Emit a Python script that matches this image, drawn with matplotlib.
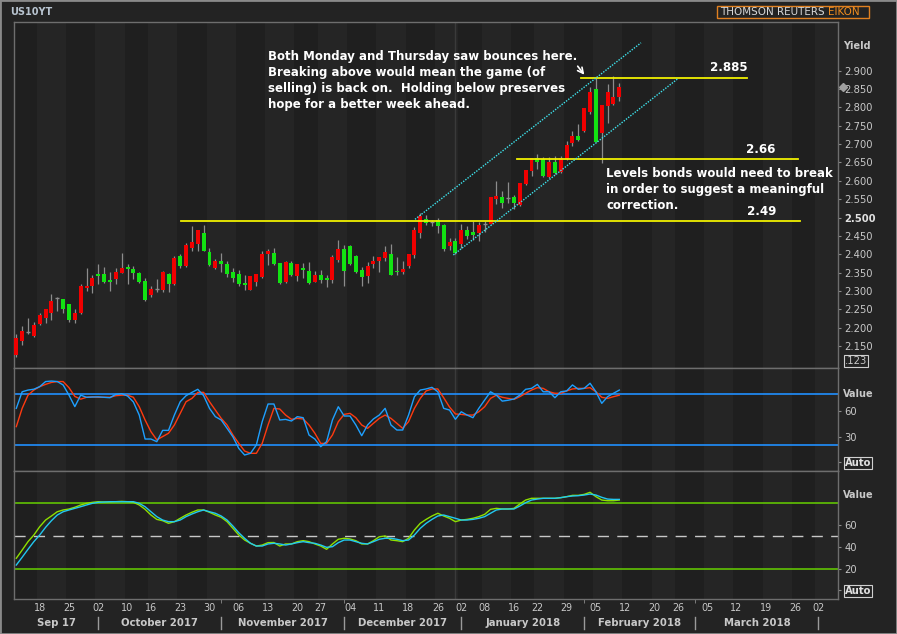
import numpy as np
import pandas as pd
import matplotlib
matplotlib.use("Agg")
import matplotlib.pyplot as plt
from matplotlib.transforms import blended_transform_factory
from matplotlib.patches import Rectangle
from matplotlib.lines import Line2D

W, H = 897, 634

# trading calendar (US bond market days)
holidays = ["2017-10-09", "2017-11-23", "2017-12-25", "2018-01-01",
            "2018-01-15", "2018-02-19", "2018-03-30"]
days = pd.bdate_range("2017-09-12", "2018-04-06", freq="C", holidays=holidays)
idx_of = {d.strftime("%Y-%m-%d"): i for i, d in enumerate(days)}

# daily candles US10YT, 12 Sep 2017 - 9 Feb 2018
opens = [2.125, 2.164, 2.188, 2.177, 2.209, 2.226, 2.241, 2.281, 2.278, 2.264,
         2.221, 2.239, 2.308, 2.313, 2.346, 2.346, 2.330, 2.333, 2.350, 2.365,
         2.359, 2.349, 2.327, 2.289, 2.305, 2.303, 2.345, 2.319, 2.395, 2.368,
         2.416, 2.428, 2.458, 2.406, 2.362, 2.382, 2.373, 2.352, 2.346, 2.322,
         2.303, 2.324, 2.337, 2.401, 2.403, 2.376, 2.324, 2.376, 2.341, 2.362,
         2.354, 2.324, 2.343, 2.333, 2.330, 2.384, 2.414, 2.422, 2.395, 2.357,
         2.341, 2.373, 2.382, 2.390, 2.401, 2.354, 2.352, 2.368, 2.398, 2.458,
         2.496, 2.488, 2.493, 2.480, 2.422, 2.436, 2.428, 2.466, 2.461, 2.458,
         2.482, 2.482, 2.550, 2.556, 2.553, 2.556, 2.534, 2.591, 2.627, 2.662,
         2.659, 2.610, 2.652, 2.625, 2.659, 2.704, 2.722, 2.737, 2.787, 2.850,
         2.731, 2.804, 2.809, 2.829]
highs = [2.183, 2.204, 2.226, 2.214, 2.240, 2.251, 2.292, 2.284, 2.278, 2.264,
         2.251, 2.318, 2.363, 2.343, 2.373, 2.365, 2.352, 2.362, 2.403, 2.373,
         2.368, 2.352, 2.335, 2.313, 2.333, 2.354, 2.348, 2.395, 2.400, 2.431,
         2.477, 2.466, 2.480, 2.417, 2.387, 2.403, 2.382, 2.362, 2.357, 2.343,
         2.341, 2.346, 2.409, 2.414, 2.417, 2.376, 2.382, 2.382, 2.373, 2.376,
         2.379, 2.354, 2.357, 2.343, 2.398, 2.439, 2.425, 2.425, 2.398, 2.365,
         2.379, 2.395, 2.392, 2.422, 2.428, 2.392, 2.382, 2.401, 2.474, 2.513,
         2.507, 2.493, 2.499, 2.482, 2.444, 2.444, 2.482, 2.477, 2.491, 2.488,
         2.491, 2.556, 2.600, 2.572, 2.597, 2.561, 2.594, 2.629, 2.662, 2.673,
         2.666, 2.666, 2.668, 2.668, 2.709, 2.736, 2.754, 2.798, 2.855, 2.879,
         2.807, 2.864, 2.886, 2.867]
lows = [2.120, 2.153, 2.183, 2.175, 2.206, 2.213, 2.221, 2.245, 2.241, 2.216,
        2.213, 2.237, 2.300, 2.295, 2.319, 2.321, 2.300, 2.319, 2.350, 2.319,
        2.333, 2.321, 2.273, 2.283, 2.296, 2.298, 2.298, 2.316, 2.363, 2.365,
        2.410, 2.410, 2.410, 2.368, 2.359, 2.351, 2.337, 2.323, 2.313, 2.302,
        2.303, 2.313, 2.334, 2.371, 2.371, 2.319, 2.322, 2.341, 2.327, 2.335,
        2.319, 2.324, 2.322, 2.311, 2.322, 2.379, 2.313, 2.371, 2.349, 2.313,
        2.322, 2.362, 2.352, 2.382, 2.343, 2.343, 2.346, 2.362, 2.390, 2.444,
        2.480, 2.477, 2.458, 2.408, 2.411, 2.401, 2.417, 2.441, 2.439, 2.436,
        2.461, 2.482, 2.537, 2.526, 2.540, 2.523, 2.531, 2.589, 2.613, 2.632,
        2.611, 2.607, 2.618, 2.622, 2.657, 2.695, 2.709, 2.734, 2.782, 2.707,
        2.649, 2.758, 2.807, 2.818]
closes = [2.171, 2.191, 2.188, 2.207, 2.234, 2.251, 2.273, 2.281, 2.252, 2.221,
          2.241, 2.313, 2.312, 2.336, 2.341, 2.323, 2.324, 2.352, 2.362, 2.361,
          2.350, 2.323, 2.274, 2.305, 2.305, 2.351, 2.319, 2.389, 2.368, 2.425,
          2.432, 2.466, 2.410, 2.371, 2.382, 2.373, 2.346, 2.334, 2.319, 2.316,
          2.341, 2.346, 2.401, 2.409, 2.373, 2.322, 2.379, 2.343, 2.373, 2.357,
          2.322, 2.343, 2.330, 2.331, 2.392, 2.414, 2.354, 2.373, 2.352, 2.338,
          2.368, 2.382, 2.392, 2.406, 2.343, 2.352, 2.360, 2.401, 2.466, 2.504,
          2.484, 2.488, 2.477, 2.414, 2.433, 2.403, 2.466, 2.450, 2.452, 2.480,
          2.482, 2.556, 2.559, 2.540, 2.553, 2.540, 2.594, 2.629, 2.662, 2.651,
          2.614, 2.652, 2.620, 2.663, 2.698, 2.722, 2.711, 2.798, 2.843, 2.707,
          2.807, 2.843, 2.829, 2.855]

# middle panel oscillator
osc_fast = [63.5, 83, 85, 86, 89, 95, 95.6, 95, 91, 79,
            65.5, 79, 76.5, 76.8, 77, 76.5, 76, 80, 80.7, 78,
            71, 55.6, 27.4, 27.4, 24.3, 37.6, 37.6, 55.6, 71.3, 78.4,
            82.3, 85.9, 78.4, 63.5, 53.7, 49.8, 40, 30, 16.4, 8.6,
            10.6, 20.4, 47.8, 68.6, 68.6, 49.8, 50.5, 48.6, 53.7, 52.5,
            32.1, 27.4, 18.4, 24.3, 49.8, 65.4, 54.5, 54.5, 43.9, 31.3,
            43.9, 51, 55.6, 63.5, 43.9, 38, 38, 55.6, 77.2, 85,
            86.3, 88.2, 83, 63.5, 61.5, 50.6, 59.5, 55.6, 52.5, 63.5,
            73.3, 83, 79, 72, 73, 74.5, 79, 85.9, 87, 91.7,
            83, 83, 76, 83, 84, 91, 85.9, 87, 93, 83,
            69.4, 77.2, 81.2, 85]
osc_slow = [42, 63.5, 79, 85, 89, 91.7, 94, 95, 95, 87.8,
            77.5, 74.3, 76.5, 77, 76.5, 76.5, 76.5, 78.4, 79, 79,
            76.5, 65.4, 49.8, 36.1, 26.4, 30.3, 34.2, 43.9, 57.6, 71.3,
            75.2, 82.3, 82.3, 71.3, 61.5, 51.7, 43.9, 32.1, 22.3, 13.3,
            10.6, 10.6, 22.3, 43.9, 63.5, 62.7, 55.6, 50.6, 51.7, 51,
            43.9, 34.2, 22.3, 22.3, 32.1, 47.8, 56.4, 57.6, 52.5, 43.9,
            40, 45.9, 51.7, 55.6, 51.7, 45.9, 40, 47.8, 63.5, 75.2,
            84, 86.3, 86.3, 76, 65, 56.9, 56.4, 55.6, 55.6, 59.5,
            65.4, 75.2, 79, 76.5, 75.2, 74, 77.2, 81.2, 85, 87.8,
            87, 83, 81.2, 81.2, 84, 86.3, 87, 87, 87.8, 83,
            76.5, 75.2, 77.2, 79]

# lower panel oscillator
stoch_k = [29.5, 37, 44.7, 50.8, 58.4, 64.5, 68.2, 72.1, 73.7, 74.6,
           76.2, 78.3, 79.8, 80.7, 81.3, 81, 81, 81.3, 81.6, 81.3,
           80.7, 78.3, 74.3, 69.1, 65.1, 63.9, 61.5, 63, 66.1, 69.1,
           71.6, 73.7, 73.7, 71.6, 69.1, 67, 63, 56.9, 50.8, 46.2,
           43.2, 40.7, 41.6, 43.8, 43.9, 40.7, 42.6, 42.6, 44.7, 45.6,
           44.7, 42.6, 40.7, 37.7, 42.6, 46.9, 47.8, 47.2, 45.6, 42.6,
           42.6, 45.6, 49.2, 49.9, 46.2, 45.6, 44.7, 47.8, 55.4, 61.5,
           65.1, 68.2, 70.7, 68.2, 66.1, 63, 64.5, 65.1, 66.1, 67.6,
           69.7, 74.3, 75.2, 74.6, 74.6, 75.2, 79.2, 82.8, 84.4, 84.4,
           84.4, 84.4, 84.4, 85, 85.9, 87.1, 87.1, 88, 89.9, 85.9,
           82.8, 82.2, 82.2, 82.8]
stoch_d = [23.3, 30.4, 37.7, 44.7, 50.8, 57.8, 63.9, 69.1, 72.1, 73.7,
           75.2, 76.7, 78.3, 79.8, 80.7, 81, 81.3, 81.3, 81.3, 81.3,
           81.3, 79.8, 76.7, 72.1, 67.6, 64.5, 63, 63, 64.5, 67.6,
           70, 72.1, 73.7, 72.1, 70.7, 68.2, 64.5, 59, 52.9, 47.8,
           43.2, 40.7, 40.7, 42.6, 43.2, 42.6, 41.6, 42.6, 43.8, 44.7,
           43.8, 43.2, 41.6, 39.5, 40.1, 43.8, 46.2, 46.2, 44.7, 43.2,
           42.6, 44.7, 46.9, 47.8, 47.8, 46.9, 45.6, 46.2, 50.8, 56.9,
           61.5, 65.1, 68.2, 69.1, 67.6, 66.1, 64.5, 64.5, 65.1, 66.1,
           67.6, 70.7, 73.7, 74.6, 74.6, 74.6, 77.3, 80.4, 82.8, 83.7,
           84.4, 84.4, 84.4, 85, 85.9, 86.5, 86.8, 87.4, 88.3, 87.4,
           85.3, 83.7, 83.4, 83.4]

day_ticks = ["2017-09-18", "2017-09-25", "2017-10-02", "2017-10-10", "2017-10-16",
             "2017-10-23", "2017-10-30", "2017-11-06", "2017-11-13", "2017-11-20",
             "2017-11-27", "2017-12-04", "2017-12-11", "2017-12-18", "2017-12-26",
             "2018-01-02", "2018-01-08", "2018-01-16", "2018-01-22", "2018-01-29",
             "2018-02-05", "2018-02-12", "2018-02-20", "2018-02-26", "2018-03-05",
             "2018-03-12", "2018-03-19", "2018-03-26", "2018-04-02"]
month_starts = ["2017-10-02", "2017-11-01", "2017-12-01", "2018-01-02",
                "2018-02-01", "2018-03-01", "2018-04-02"]
month_names = ["Sep 17", "October 2017", "November 2017", "December 2017",
               "January 2018", "February 2018", "March 2018"]

levels = [2.49, 2.66, 2.88]
level_names = ["2.49", "2.66", "2.885"]

BG = "#232323"
DARK = "#1f1f1f"
LIGHT = "#252525"
FRAME = "#6e6e6e"
TXT = "#c8c8c8"

fig = plt.figure(figsize=(W / 100, H / 100), dpi=100, facecolor=BG)


def box(top, bottom):
    return [14.3 / W, (H - bottom) / H, (837.7 - 14.3) / W, (bottom - top) / H]


ax1 = fig.add_axes(box(22.3, 368.3))
ax2 = fig.add_axes(box(368.3, 471))
ax3 = fig.add_axes(box(471, 599))

xmin, xmax = -0.34, 140.3
n = len(closes)
x = np.arange(n)

# weekly stripes
weeks = pd.Series(np.arange(len(days)), index=days).groupby(days.to_period("W")).agg(["min", "max"])
for ax in (ax1, ax2, ax3):
    ax.set_facecolor(DARK)
    for k, (a, b) in enumerate(weeks.values):
        if k % 2 == 1:
            ax.axvspan(a - 0.5, b + 0.5, color=LIGHT, lw=0, zorder=0)
    ax.axvline(idx_of["2017-12-29"], color="#3a3a3a", lw=1, zorder=0.5)
    ax.set_xlim(xmin, xmax)
    for s in ax.spines.values():
        s.set_color(FRAME)
        s.set_linewidth(1)
    ax.yaxis.tick_right()
    ax.tick_params(axis="y", colors="#8a8a8a", labelcolor=TXT, labelsize=7.2,
                   length=2.5, pad=2.5, direction="out")
    ax.tick_params(axis="x", length=0)
    ax.set_xticks([])

# candles
o = np.array(opens); c = np.array(closes); h = np.array(highs); l = np.array(lows)
ax1.vlines(x, l, h, color="#8c8c8c", lw=0.9, zorder=2)
up = c > o
dn = c < o
eq = c == o
ax1.bar(x[up], np.maximum(c[up] - o[up], 0.003), bottom=o[up], width=0.68,
        color="#f00000", lw=0, zorder=3)
ax1.bar(x[dn], np.maximum(o[dn] - c[dn], 0.003), bottom=c[dn], width=0.68,
        color="#12e312", lw=0, zorder=3)
ax1.hlines(c[eq], x[eq] - 0.35, x[eq] + 0.35, color="#8c8c8c", lw=1, zorder=3)

ax1.set_ylim(2.0891, 3.0319)
yt = np.round(np.arange(2.15, 2.9001, 0.05), 3)
ax1.set_yticks(yt, [f"{v:.3f}" for v in yt])
for t in ax1.get_yticklabels():
    if t.get_text() == "2.500":
        t.set_fontweight("bold")
        t.set_color("#e0e0e0")

# support / resistance levels
level_x0 = [28.1, 85.5, 96.5]
level_x1 = [133.9, 133.5, 124.8]
for lv, a, b in zip(levels, level_x0, level_x1):
    ax1.plot([a, b], [lv, lv], color="#f0f000", lw=1.3, zorder=4)
level_lab_x = [127.4, 127.2, 121.7]
level_lab_y = [2.517, 2.686, 2.908]
for name, lx, ly in zip(level_names, level_lab_x, level_lab_y):
    ax1.text(lx, ly, name, color="white", fontsize=8.6, fontweight="bold",
             ha="center", va="center", zorder=5)

# trend channel
ax1.plot([68.1, 106.7], [2.495, 2.976], color="#3ee4ee", lw=1, ls=(0, (1, 1)), zorder=4)
ax1.plot([74.65, 112.9], [2.398, 2.877], color="#3ee4ee", lw=1, ls=(0, (1, 1)), zorder=4)

# right axis extras
tr1 = blended_transform_factory(ax1.transAxes, ax1.transData)
ax1.plot([1.006], [closes[-1]], marker="D", ms=4, color="#a0a0a0", transform=tr1,
         clip_on=False)
ax1.text(1.0085, 2.108, ".123", transform=tr1, color=TXT, fontsize=7.2, va="center",
         bbox=dict(boxstyle="square,pad=0.1", fc="none", ec="#d0d0d0", lw=0.8))
ax1.text(1.0064, 0.932, "Yield", transform=ax1.transAxes, color=TXT, fontsize=7,
         fontweight="bold", va="center")

# middle oscillator
ax2.set_ylim(-10.2, 110.6)
ax2.axhline(80, color="#1f8fff", lw=1.2, zorder=2)
ax2.axhline(20, color="#1f8fff", lw=1.2, zorder=2)
ax2.plot(x, osc_slow, color="#ff3a10", lw=1, zorder=3)
ax2.plot(x, osc_fast, color="#1ea0ff", lw=1, zorder=4)
ax2.set_yticks([0, 30, 60], ["Auto", "30", "60"])
ax2.text(1.0064, 0.75, "Value", transform=ax2.transAxes, color=TXT, fontsize=7,
         fontweight="bold", va="center")

# lower oscillator
ax3.set_ylim(-7.8, 109.4)
ax3.axhline(80, color="#66d000", lw=1.1, zorder=2)
ax3.axhline(20, color="#66d000", lw=1.1, zorder=2)
ax3.axhline(50, color="#c8c8c8", lw=1, ls=(0, (8, 6)), zorder=2)
ax3.plot(x, stoch_k, color="#8ee000", lw=1, zorder=3)
ax3.plot(x, stoch_d, color="#22c8f0", lw=1, zorder=4)
ax3.set_yticks([0, 20, 40, 60], ["Auto", "20", "40", "60"])
ax3.text(1.0064, 0.8125, "Value", transform=ax3.transAxes, color=TXT, fontsize=7,
         fontweight="bold", va="center")

for ax in (ax2, ax3):
    for t in ax.get_yticklabels():
        if t.get_text() == "Auto":
            t.set_fontweight("bold")
            t.set_color("#e0e0e0")
            t.set_bbox(dict(boxstyle="square,pad=0.1", fc="none", ec="#d0d0d0", lw=0.8))

# date axis
ax3.set_xticks([idx_of[d] for d in day_ticks], [d[-2:] for d in day_ticks])
ax3.tick_params(axis="x", length=0, pad=3, labelsize=6.9, labelcolor=TXT)
ms_idx = [idx_of[d] for d in month_starts]
ax3.set_xticks(ms_idx, minor=True)
ax3.tick_params(axis="x", which="minor", length=3, color="#8a8a8a", direction="out")
trx = blended_transform_factory(ax3.transData, ax3.transAxes)
edges = [xmin] + ms_idx
for k, name in enumerate(month_names):
    ax3.text((edges[k] + edges[k + 1]) / 2, -0.1875, name, transform=trx, color=TXT,
             fontsize=7.3, fontweight="bold", ha="center", va="center")
for m in ms_idx:
    ax3.add_line(Line2D([m, m], [-0.14, -0.235], transform=trx, color="#9a9a9a",
                        lw=1, clip_on=False))


def fx(px):
    return px / W


def fy(py):
    return 1 - py / H


# titles
fig.text(fx(10), fy(12.3), "US10YT", color="#b8c4d0", fontsize=7, fontweight="bold",
         va="center")
t1 = fig.text(fx(720), fy(12.2), "THOMSON REUTERS ", color="#d8d8d8", fontsize=7.5,
              va="center")
fig.canvas.draw()
bb = t1.get_window_extent()
fig.text(bb.x1 / W, fy(12.2), "EIKON", color="#f08c1e", fontsize=7.5, va="center")
fig.patches.append(Rectangle((fx(717.3), fy(18.3)), (869.3 - 717.3) / W, 12.3 / H,
                             transform=fig.transFigure, fill=False, ec="#e08020", lw=1))

# annotations
note1 = ["Both Monday and Thursday saw bounces here.",
         "Breaking above would mean the game (of",
         "selling) is back on.  Holding below preserves",
         "hope for a better week ahead."]
for k, s in enumerate(note1):
    fig.text(fx(268.3), fy(56.7 + 15.9 * k), s, color="white", fontsize=8.5,
             fontweight="bold", va="center")
note2 = ["Levels bonds would need to break",
         "in order to suggest a meaningful",
         "correction."]
for k, s in enumerate(note2):
    fig.text(fx(606), fy(173.7 + 15.7 * k), s, color="white", fontsize=8.5,
             fontweight="bold", va="center")
ax1.annotate("", xy=(586, H - 77), xycoords="figure pixels",
             xytext=(576, H - 64), textcoords="figure pixels",
             arrowprops=dict(arrowstyle="->", color="white", lw=1.2))

# outer frame
fig.patches.append(Rectangle((0, 0), 1, 1, transform=fig.transFigure, fill=False,
                             ec="#8a8a8a", lw=2))

fig.savefig("out.png", dpi=100, facecolor=BG)
